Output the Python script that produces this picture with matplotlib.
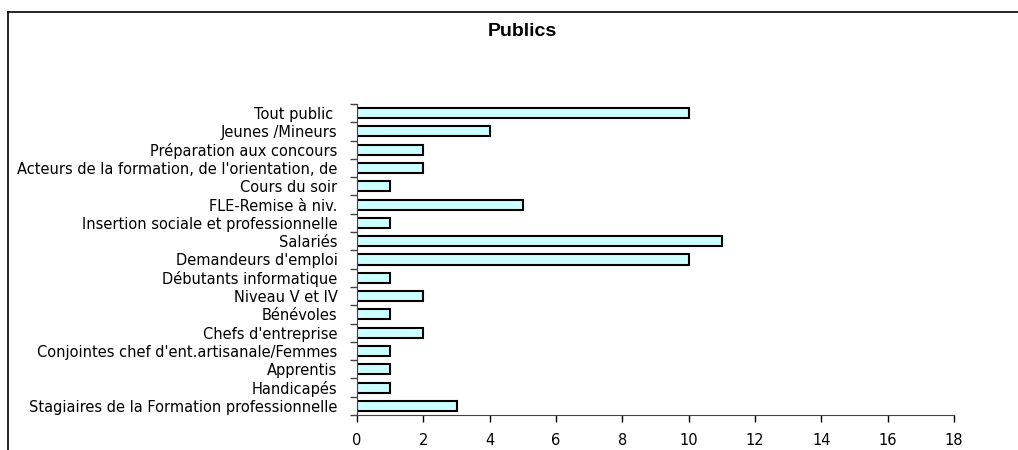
import matplotlib
matplotlib.use("Agg")
import matplotlib.pyplot as plt
from matplotlib.lines import Line2D

# Categories (top to bottom as shown)
categories = [
    "Tout public ",
    "Jeunes /Mineurs",
    "Préparation aux concours",
    "Acteurs de la formation, de l'orientation, de",
    "Cours du soir",
    "FLE-Remise à niv.",
    "Insertion sociale et professionnelle",
    "Salariés",
    "Demandeurs d'emploi",
    "Débutants informatique",
    "Niveau V et IV",
    "Bénévoles",
    "Chefs d'entreprise",
    "Conjointes chef d'ent.artisanale/Femmes",
    "Apprentis",
    "Handicapés",
    "Stagiaires de la Formation professionnelle",
]
values = [10, 4, 2, 2, 1, 5, 1, 11, 10, 1, 2, 1, 2, 1, 1, 1, 3]
xticks = list(range(0, 19, 2))

fig = plt.figure(figsize=(10.18, 4.5), dpi=100)
ax = fig.add_axes([357 / 1018, 1 - 415 / 450, (954 - 357) / 1018, (415 - 104) / 450])

n = len(categories)
pos = list(range(n))[::-1]
ax.barh(pos, values, height=0.55, color="#CCFFFF", edgecolor="black", linewidth=1.5)

ax.set_xlim(0, 18)
ax.set_ylim(-0.5, n - 0.5)
ax.set_xticks(xticks)
ax.set_xticklabels([str(t) for t in xticks], fontsize=10.5, family="DejaVu Sans")
ax.tick_params(axis="x", direction="out", length=5, width=1, pad=8)

# category labels, tick marks at category boundaries
ax.set_yticks(pos)
ax.set_yticklabels(categories, fontsize=10.5, family="DejaVu Sans")
ax.tick_params(axis="y", length=0, pad=14)
ax.set_yticks([p - 0.5 for p in range(n + 1)], minor=True)
ax.tick_params(axis="y", which="minor", direction="out", length=5, width=1, color="#444444")

for s in ["top", "right"]:
    ax.spines[s].set_visible(False)
ax.spines["left"].set_color("#444444")
ax.spines["bottom"].set_color("#444444")

fig.text(522 / 1018, 1 - 31 / 450, "Publics", ha="center", va="center",
         fontsize=14, fontweight="bold", family="Liberation Sans")

# outer chart border (Excel style)
fig.add_artist(Line2D([8 / 1018, 1.0], [1 - 12 / 450, 1 - 12 / 450],
                      transform=fig.transFigure, color="black", linewidth=1.2))
fig.add_artist(Line2D([8 / 1018, 8 / 1018], [0.0, 1 - 12 / 450],
                      transform=fig.transFigure, color="black", linewidth=1.2))

fig.savefig("out.png", dpi=100)
